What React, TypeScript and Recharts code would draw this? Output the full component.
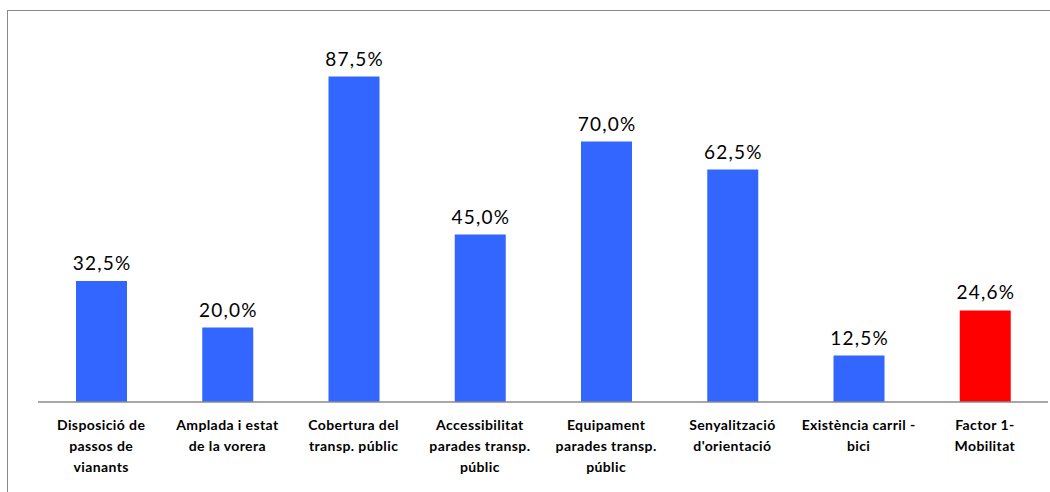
import React from 'react';
import { BarChart, Bar, XAxis, YAxis, LabelList, Cell } from 'recharts';

const categories = [
  'Disposició de\npassos de\nvianants',
  'Amplada i estat\nde la vorera',
  'Cobertura del\ntransp. públic',
  'Accessibilitat\nparades transp.\npúblic',
  'Equipament\nparades transp.\npúblic',
  'Senyalització\nd\'orientació',
  'Existència carril -\nbici',
  'Factor 1-\nMobilitat',
];
const values = [32.5, 20.0, 87.5, 45.0, 70.0, 62.5, 12.5, 24.6];
const colors = ['#3366FF', '#3366FF', '#3366FF', '#3366FF', '#3366FF', '#3366FF', '#3366FF', '#FF0000'];

const data = categories.map((name, i) => ({ name, value: values[i], color: colors[i] }));

const fmt = (v: number) => v.toFixed(1).replace('.', ',') + '%';

const CategoryTick = (props: any) => {
  const { x, y, payload } = props;
  const lines = String(payload.value).split('\n');
  return (
    <text x={x} y={y} textAnchor="middle" fontFamily="Lato, sans-serif" fontWeight="bold" fontSize={14} letterSpacing={0.4} fill="#000">
      {lines.map((l, i) => (
        <tspan key={i} x={x} dy={i === 0 ? 28 : 21}>{l}</tspan>
      ))}
    </text>
  );
};

const PctLabel = (props: any) => {
  const { x, y, width, value } = props;
  return (
    <text x={x + width / 2 + 0.6} y={y - 11} textAnchor="middle" fontFamily="Lato, sans-serif" fontSize={19} letterSpacing={1.2} fill="#000">
      {fmt(Number(value))}
    </text>
  );
};

export default function App() {
  return (
    <div style={{ position: 'absolute', left: 0, top: 0, width: 1050, height: 492, background: '#fff' }}>
      <div style={{ position: 'absolute', left: 7, top: 10, width: 1043, height: 482, borderTop: '1px solid #8a8a8a', borderLeft: '1px solid #8a8a8a', boxSizing: 'border-box' }} />
      <div style={{ position: 'absolute', left: 0, top: 0 }}>
        <BarChart width={1050} height={492} data={data} margin={{ top: 30, right: 2, left: 38, bottom: 30 }} barCategoryGap="0%">
          <XAxis dataKey="name" height={60} interval={0} tickLine={false} tickSize={0} tickMargin={0} stroke="#8a8a8a" strokeWidth={1.5} tick={<CategoryTick />} />
          <YAxis hide domain={[0, 100]} />
          <Bar dataKey="value" barSize={51} isAnimationActive={false}>
            {data.map((d, i) => (
              <Cell key={i} fill={d.color} />
            ))}
            <LabelList dataKey="value" content={<PctLabel />} />
          </Bar>
        </BarChart>
      </div>
    </div>
  );
}
